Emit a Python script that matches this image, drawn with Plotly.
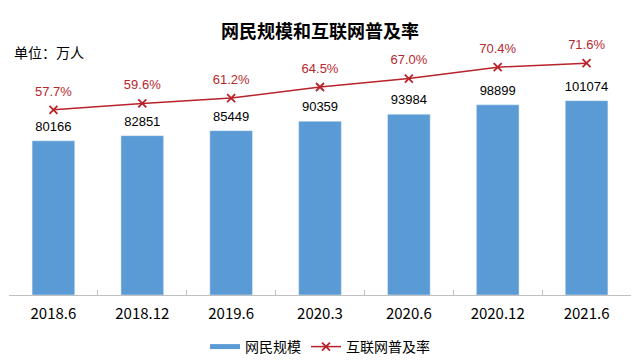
import plotly.graph_objects as go

categories = ["2018.6", "2018.12", "2019.6", "2020.3", "2020.6", "2020.12", "2021.6"]
users = [80166, 82851, 85449, 90359, 93984, 98899, 101074]
rate = [57.7, 59.6, 61.2, 64.5, 67.0, 70.4, 71.6]

BLUE = "#5B9BD5"
RED = "#B8222A"
LABEL_RED = "#B8272E"

fig = go.Figure()
fig.add_trace(go.Bar(
    x=categories, y=users, name="网民规模", marker_color=BLUE, showlegend=False,
))
# value labels above the bars
fig.add_trace(go.Scatter(
    x=categories, y=users, mode="markers+text", showlegend=False, hoverinfo="skip",
    marker=dict(size=9, opacity=0),
    text=[str(v) for v in users], textposition="top center",
    textfont=dict(family="Liberation Sans, Arial", size=13, color="#000000"),
    cliponaxis=False,
))
fig.add_trace(go.Scatter(
    x=[None], y=[None], mode="lines", name="网民规模",
    line=dict(color=BLUE, width=5), showlegend=True,
))
fig.add_trace(go.Scatter(
    x=categories, y=rate, name="互联网普及率", yaxis="y2",
    mode="lines+markers",
    line=dict(color=RED, width=1.5),
    marker=dict(symbol="x-thin", size=8, line=dict(color=RED, width=1.8), color=RED),
    cliponaxis=False,
))
# percentage labels above the line
fig.add_trace(go.Scatter(
    x=categories, y=rate, yaxis="y2", mode="markers+text", showlegend=False, hoverinfo="skip",
    marker=dict(size=16, opacity=0),
    text=[f"{v:.1f}%" for v in rate], textposition="top center",
    textfont=dict(family="Liberation Sans, Arial", size=13, color=LABEL_RED),
    cliponaxis=False,
))

fig.update_layout(
    width=640, height=360,
    margin=dict(l=9, r=9, t=45, b=65, autoexpand=False),
    paper_bgcolor="white", plot_bgcolor="white",
    bargap=0.52,
    font=dict(family="Noto Sans CJK SC", size=13, color="#000000"),
    xaxis=dict(
        showline=True, linecolor="#BFBFBF", linewidth=1,
        ticks="inside", tickson="boundaries", ticklen=5, tickcolor="#BFBFBF",
        tickfont=dict(family="Noto Sans CJK SC", size=15, color="#000000"),
        ticklabelstandoff=5,
        showgrid=False, automargin=False,
    ),
    yaxis=dict(range=[0, 130000], visible=False, showgrid=False),
    yaxis2=dict(range=[2.6, 77.0], overlaying="y", side="right", visible=False, showgrid=False),
    legend=dict(
        orientation="h", x=0.5, xanchor="center", y=-0.208, yanchor="middle",
        font=dict(family="Noto Sans CJK SC", size=14, color="#000000"),
        traceorder="normal", itemwidth=30,
    ),
    annotations=[
        dict(text="<b>网民规模和互联网普及率</b>", xref="paper", yref="paper",
             x=0.5, y=1, yshift=15, xanchor="center", yanchor="middle", showarrow=False,
             font=dict(family="Noto Sans CJK SC", size=18, color="#000000")),
        dict(text="单位：万人", xref="paper", x=0.005, xanchor="left",
             yref="paper", y=1, yshift=-7, yanchor="middle", showarrow=False,
             font=dict(family="Noto Sans CJK SC", size=14, color="#000000")),
    ],
)

fig.write_html(
    "out.html",
    config={"displayModeBar": False},
    post_script="document.body.style.margin='0';document.body.style.overflow='hidden';",
)
